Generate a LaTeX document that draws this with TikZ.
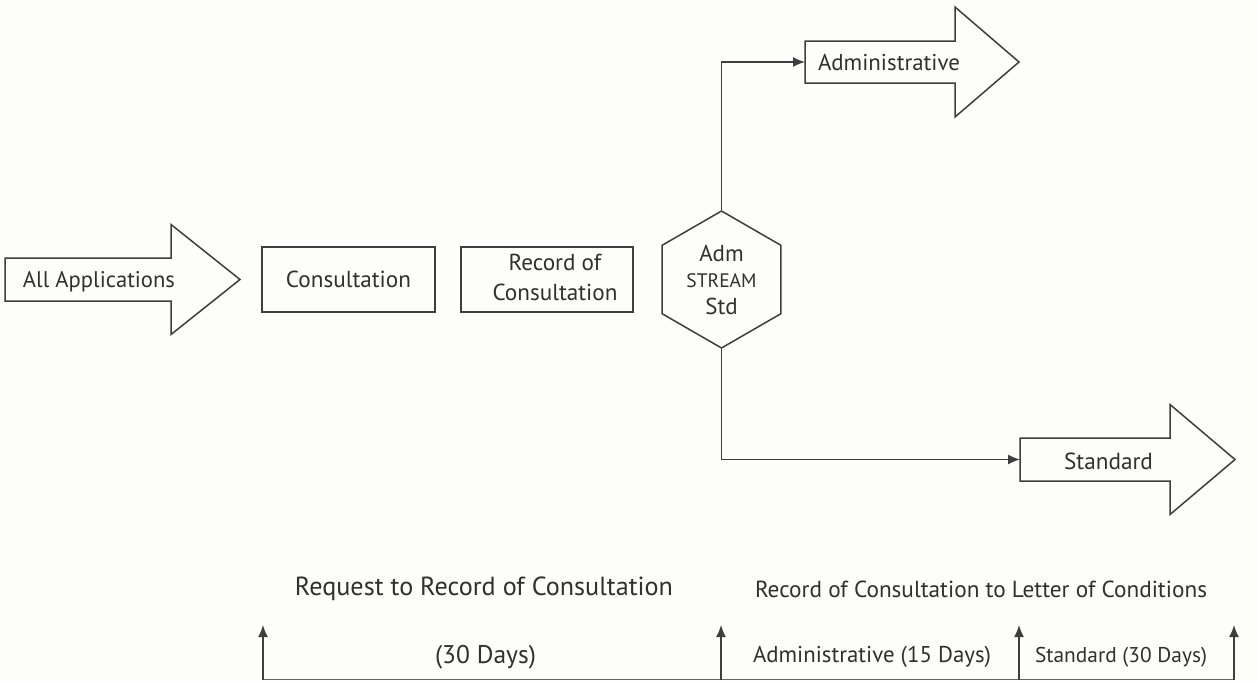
\documentclass[tikz,border=0pt]{standalone}
\usepackage{fontspec}
\setmainfont{PT Sans}
\usetikzlibrary{arrows.meta,shapes.geometric}
\definecolor{ink}{RGB}{62,62,62}
\definecolor{txt}{RGB}{48,48,48}
\definecolor{bg}{RGB}{253,253,251}
\newcommand\fitw[2]{\resizebox{#1pt}{!}{#2}}
\newcommand\blockarrow[3]{%
  \draw[line] (#1.north west) -- (#1.north east) -- ([yshift=#2pt]#1.north east)
    -- ([xshift=#3pt]#1.east) -- ([yshift=-#2pt]#1.south east) -- (#1.south east)
    -- (#1.south west) -- cycle;}
\begin{document}
\begin{tikzpicture}[x=1pt,y=-1pt,
  line/.style={draw=ink,line width=1.5pt},
  body/.style={inner sep=0pt,outer sep=0pt},
  procbox/.style={line,inner sep=0pt,minimum width=172pt,minimum height=65pt,text=txt},
  lbl/.style={inner sep=0pt,text=txt},
  conn/.style={draw=ink,line width=1.5pt,-{Latex[length=12pt,width=10pt]}},
]
\fill[bg] (0,0) rectangle (1257,681);
\useasboundingbox (0,0) rectangle (1257,681);

% block arrows
\node[body,minimum width=166pt,minimum height=43pt] (allbody) at (88,279.5) {};
\blockarrow{allbody}{33.5}{69}
\node[lbl] (alltxt) at (99,282) {\fitw{152}{All Applications}};

\node[body,minimum width=150pt,minimum height=42pt] (adminbody) at (880,62) {};
\blockarrow{adminbody}{34}{64}
\node[lbl] (admintxt) at (889,62) {\fitw{142}{Administrative}};

\node[body,minimum width=150pt,minimum height=43pt] (stdbody) at (1095,459.5) {};
\blockarrow{stdbody}{33.5}{65}
\node[lbl] (stdtxt) at (1108.5,461) {\fitw{89}{Standard}};

% process boxes
\node[procbox,minimum width=173pt] (consult) at (348.5,279.5) {\fitw{125}{Consultation}};
\node[procbox] (record) at (547,279.5) {\hspace*{16pt}\fitw{125}{\fontsize{22}{29}\selectfont\begin{tabular}{@{}c@{}}Record of\\Consultation\end{tabular}}};

% stream hexagon
\node[line,regular polygon,regular polygon sides=6,regular polygon rotate=30,
      minimum size=137pt,inner sep=0pt,text=txt,align=center,
      font=\fontsize{23}{26.5}\selectfont] (hex) at (721.5,279.5)
  {Adm\\{\fontsize{19.5}{26.5}\selectfont STREAM}\\Std};

\draw[conn] (hex.north) |- (adminbody.west);
\draw[conn] (hex.south) |- (stdbody.west);

% timeline
\coordinate (t1) at (263,679.5);
\coordinate (t2) at (721,679.5);
\coordinate (t3) at (1019,679.5);
\coordinate (t4) at (1234,679.5);
\coordinate (t1top) at (263,625);
\coordinate (t2top) at (721,625);
\coordinate (t3top) at (1019,625);
\coordinate (t4top) at (1234,625);
\draw[line,draw=ink!80] (t1) -- (t4);
\draw[conn] (t1) -- (t1top);
\draw[conn] (t2) -- (t2top);
\draw[conn] (t3) -- (t3top);
\draw[conn] (t4) -- (t4top);

\node[lbl] (reqlbl) at (484,589) {\fitw{378}{Request to Record of Consultation}};
\node[lbl] (days30) at (485.5,657) {\fitw{101}{(30 Days)}};
\node[lbl] (roclbl) at (981,589) {\fitw{452}{Record of Consultation to Letter of Conditions}};
\node[lbl] (adm15) at (872,657) {\fitw{238}{Administrative (15 Days)}};
\node[lbl] (std30) at (1121,657) {\fitw{172}{Standard (30 Days)}};
\end{tikzpicture}
\end{document}
